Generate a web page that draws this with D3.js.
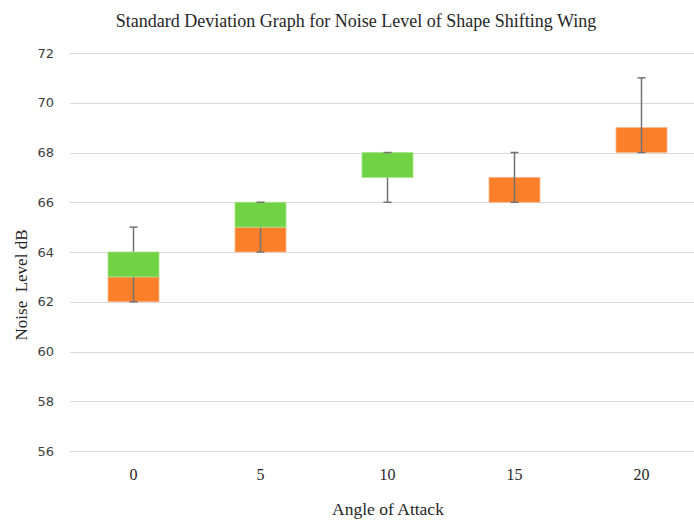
<!DOCTYPE html>
<meta charset="utf-8">
<style>
html, body { margin: 0; background: white; }
.grid line { stroke: #d9d9d9; stroke-width: 1; }
.ytick { font-family: "DejaVu Sans", sans-serif; font-size: 13px; fill: #404040; }
.xtick { font-family: "Liberation Serif", serif; font-size: 16px; fill: #262626; }
.ttl { font-family: "Liberation Serif", serif; fill: #262626; }
</style>
<body>
<script src="https://cdn.jsdelivr.net/npm/d3@7"></script>
<script>

var categories = ["0", "5", "10", "15", "20"];
var orangeLow  = [62, 64, null, 66, 68];
var orangeHigh = [63, 65, null, 67, 69];
var greenLow   = [63, 65, 67, null, null];
var greenHigh  = [64, 66, 68, null, null];
var whiskerLow  = [62, 64, 66, 66, 68];
var whiskerHigh = [65, 66, 68, 68, 71];
var yTicks = [56, 58, 60, 62, 64, 66, 68, 70, 72];

var width = 694, height = 522;

var svg = d3.select("body").append("svg")
    .attr("width", width)
    .attr("height", height);

var x = d3.scaleBand().domain(categories).range([70, 705]);
var y = d3.scaleLinear().domain([56, 72]).range([451, 53]);

var boxW = 51, capW = 8;

svg.append("g").attr("class", "grid")
  .selectAll("line").data(yTicks).enter().append("line")
    .attr("x1", 70).attr("x2", 705)
    .attr("y1", d => Math.round(y(d)) + 0.5)
    .attr("y2", d => Math.round(y(d)) + 0.5);

svg.append("g").selectAll("text").data(yTicks).enter().append("text")
    .attr("class", "ytick")
    .attr("x", 54)
    .attr("y", d => y(d))
    .attr("dy", "0.35em")
    .attr("text-anchor", "end")
    .text(d => d);

var cx = d => x(d) + x.bandwidth() / 2;

// orange bars
svg.append("g").selectAll("rect").data(categories.filter((c, i) => orangeLow[i] != null)).enter()
  .append("rect")
    .attr("x", d => cx(d) - boxW / 2)
    .attr("y", d => y(orangeHigh[categories.indexOf(d)]))
    .attr("width", boxW)
    .attr("height", d => { let i = categories.indexOf(d); return y(orangeLow[i]) - y(orangeHigh[i]); })
    .attr("fill", "#fe7f2a")
    .attr("stroke", "#fdb58a")
    .attr("stroke-width", 0.8);

// whisker lines
svg.append("g").selectAll("line").data(categories).enter().append("line")
    .attr("x1", d => cx(d)).attr("x2", d => cx(d))
    .attr("y1", (d, i) => y(whiskerLow[i]))
    .attr("y2", (d, i) => y(whiskerHigh[i]))
    .attr("stroke", "#737373")
    .attr("stroke-width", 1.5);

// green bars
svg.append("g").selectAll("rect").data(categories.filter((c, i) => greenLow[i] != null)).enter()
  .append("rect")
    .attr("x", d => cx(d) - boxW / 2)
    .attr("y", d => y(greenHigh[categories.indexOf(d)]))
    .attr("width", boxW)
    .attr("height", d => { let i = categories.indexOf(d); return y(greenLow[i]) - y(greenHigh[i]); })
    .attr("fill", "#70d344")
    .attr("stroke", "#a6e38b")
    .attr("stroke-width", 0.8);

// caps
var caps = svg.append("g");
categories.forEach((c, i) => {
  [whiskerLow[i], whiskerHigh[i]].forEach(v => {
    caps.append("line")
      .attr("x1", cx(c) - capW / 2).attr("x2", cx(c) + capW / 2)
      .attr("y1", y(v)).attr("y2", y(v))
      .attr("stroke", "#737373")
      .attr("stroke-width", 1.5);
  });
});

svg.append("g").selectAll("text").data(categories).enter().append("text")
    .attr("class", "xtick")
    .attr("x", d => cx(d))
    .attr("y", 480)
    .attr("text-anchor", "middle")
    .text(d => d);

svg.append("text").attr("class", "ttl")
    .attr("x", 356).attr("y", 27)
    .attr("text-anchor", "middle")
    .style("font-size", "18px")
    .text("Standard Deviation Graph for Noise Level of Shape Shifting Wing");

svg.append("text").attr("class", "ttl")
    .attr("x", 388).attr("y", 515)
    .attr("text-anchor", "middle")
    .style("font-size", "17.5px")
    .text("Angle of Attack");

svg.append("text").attr("class", "ttl")
    .attr("transform", "translate(27,285) rotate(-90)")
    .attr("text-anchor", "middle")
    .style("font-size", "17px")
    .style("white-space", "pre")
    .text("Noise  Level dB");

</script>
